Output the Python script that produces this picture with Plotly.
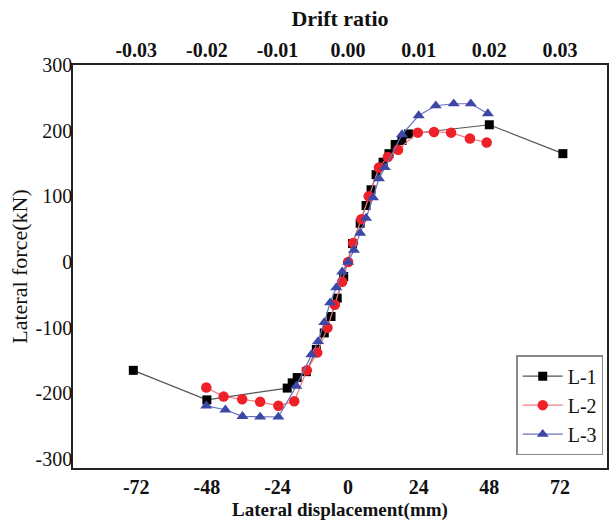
import plotly.graph_objects as go

# ---- data ----
l1_x = [-73, -48, -20.7, -19, -17.3, -14.2, -10.8, -8.1, -5.8, -3.7, -1.5, 1.5, 4.1, 6.1, 7.8, 9.5, 11.9, 13.9, 16, 18.3, 20.5, 48, 73]
l1_y = [-165, -210, -192, -184, -176, -167, -133, -108, -83, -55, -22, 28, 59, 86, 110, 133, 152, 165, 179, 185, 195, 209, 165]

l2_x = [-48.2, -42.3, -36, -29.9, -23.7, -18.3, -14, -10.5, -7, -4.5, -2, 0, 1.7, 4.5, 7, 10.5, 13.5, 17, 23.7, 29.2, 35, 41.4, 47.1]
l2_y = [-191, -205, -209, -213, -219, -212, -165, -138, -100, -65, -30, 0, 29, 65, 100, 144, 160, 171, 197, 198, 197, 188, 182]

l3_x = [-48.2, -41.7, -35.9, -29.9, -23.7, -17.6, -12.5, -10.2, -8.1, -6.1, -4, -2, 0, 2, 4.1, 6.1, 8.5, 10.5, 12.5, 18.3, 24, 29.8, 35.9, 41.7, 47.5]
l3_y = [-219, -225, -235, -236, -236, -189, -141, -121, -92, -62, -39, -15, 0, 18, 44, 67, 98, 127, 144, 194, 223, 238, 241, 241, 226]

disp_ticks = [-72, -48, -24, 0, 24, 48, 72]
drift_ticks = [-0.03, -0.02, -0.01, 0.0, 0.01, 0.02, 0.03]
drift_labels = ["-0.03", "-0.02", "-0.01", "0.00", "0.01", "0.02", "0.03"]
force_ticks = [-300, -200, -100, 0, 100, 200, 300]
story_height = 2400.0  # mm, drift = displacement / height

disp_labels = [str(v) for v in disp_ticks]     # plain hyphen minus, as in the reference
force_labels = [str(v) for v in force_ticks]

XR = [-93.5, 88]
YR = [-313.7, 300]

SERIF = "Liberation Serif"

fig = go.Figure()
fig.add_trace(go.Scatter(x=l1_x, y=l1_y, mode="lines+markers", name="L-1",
                         line=dict(color="#555555", width=1.2),
                         marker=dict(symbol="square", size=9, color="#000000")))
fig.add_trace(go.Scatter(x=l2_x, y=l2_y, mode="lines+markers", name="L-2",
                         line=dict(color="#f07a7a", width=1.2),
                         marker=dict(symbol="circle", size=10.5, color="#ee2028")))
fig.add_trace(go.Scatter(x=l3_x, y=l3_y, mode="lines+markers", name="L-3",
                         line=dict(color="#6a72c0", width=1.2),
                         marker=dict(symbol="triangle-up", size=10.5, color="#3c47a6")))
# invisible trace to carry the top drift axis
fig.add_trace(go.Scatter(x=[XR[0] / story_height, XR[1] / story_height], y=[0, 0],
                         xaxis="x2", mode="markers", marker=dict(opacity=0),
                         showlegend=False, hoverinfo="skip"))

fig.update_layout(
    width=609, height=527,
    margin=dict(l=73, r=0, t=65, b=59),
    paper_bgcolor="white", plot_bgcolor="white",
    font=dict(family=SERIF, color="#111111"),
    showlegend=True,
    legend=dict(x=0.83, y=0.28, xanchor="left", yanchor="top",
                bordercolor="#888888", borderwidth=1.5, bgcolor="white",
                font=dict(family=SERIF, size=20, color="#111111"),
                tracegroupgap=0, itemwidth=40),
    xaxis=dict(range=XR, tickvals=disp_ticks, ticktext=disp_labels,
               showgrid=False, zeroline=False,
               showline=True, linecolor="#222222", linewidth=1.5, mirror=True,
               ticks="", tickfont=dict(family=SERIF, size=20, weight="bold"),
               title=dict(text="Lateral displacement(mm)",
                          font=dict(family=SERIF, size=19, weight="bold"), standoff=6)),
    xaxis2=dict(range=[XR[0] / story_height, XR[1] / story_height], overlaying="x",
                side="top", tickvals=drift_ticks, ticktext=drift_labels,
                showgrid=False, zeroline=False, showline=False, ticks="",
                ticklabelstandoff=3,
                tickfont=dict(family=SERIF, size=20, weight="bold"),
                title=dict(text="Drift ratio",
                           font=dict(family=SERIF, size=22, weight="bold"), standoff=6)),
    yaxis=dict(range=YR, tickvals=force_ticks, ticktext=force_labels,
               showgrid=False, zeroline=False,
               showline=True, linecolor="#222222", linewidth=1.5, mirror=True,
               ticks="", ticklabelstandoff=-5,
               tickfont=dict(family=SERIF, size=20),
               title=dict(text="Lateral force(kN)", font=dict(family=SERIF, size=22),
                          standoff=2)),
)

fig.write_html("out.html")
